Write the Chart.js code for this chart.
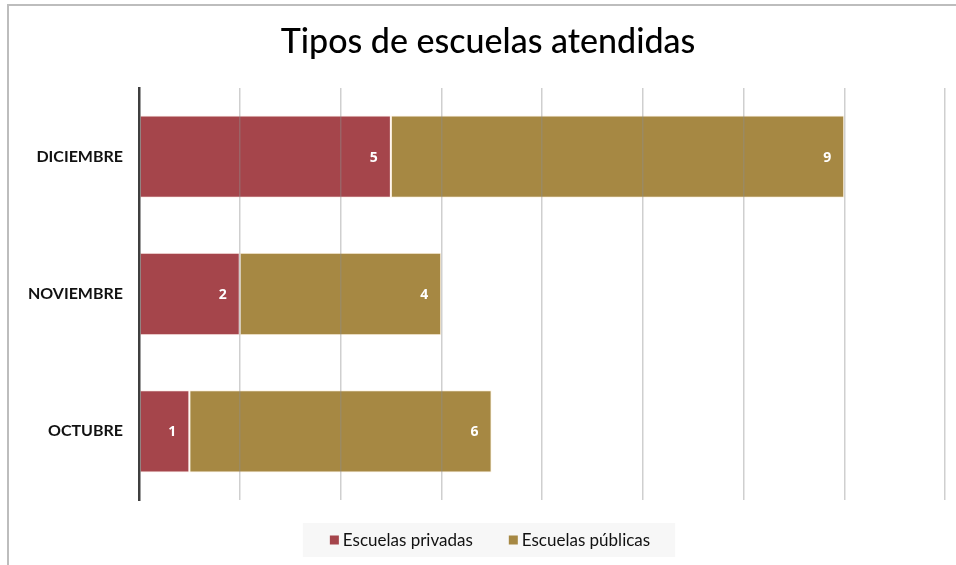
<!DOCTYPE html>
<html>
<head>
<meta charset="utf-8">
<script src="https://cdn.jsdelivr.net/npm/chart.js@4"></script>
<style>
html,body{margin:0;padding:0;background:#fff;}
#wrap{position:relative;width:956px;height:565px;}
</style>
</head>
<body>
<div id="wrap"><canvas id="c" width="956" height="565"></canvas></div>
<script>
const categories = ['DICIEMBRE', 'NOVIEMBRE', 'OCTUBRE'];
const privadas = [5, 2, 1];
const publicas = [9, 4, 6];
const seriesNames = ['Escuelas privadas', 'Escuelas públicas'];
const titleText = 'Tipos de escuelas atendidas';
const xMax = 16;
const xStep = 2;
const seriesColors = ['#a5454b', '#a68843'];

const framePlugin = {
  id: 'frame',
  beforeDraw(chart) {
    const ctx = chart.ctx;
    ctx.save();
    ctx.fillStyle = '#fff';
    ctx.fillRect(0, 0, chart.width, chart.height);
    ctx.restore();
  },
  afterDraw(chart) {
    const ctx = chart.ctx;
    ctx.save();
    // title
    ctx.fillStyle = '#000';
    ctx.font = '500 34px Lato, sans-serif';
    ctx.textAlign = 'center';
    ctx.textBaseline = 'middle';
    ctx.fillText(titleText, 488, 42);
    // legend
    ctx.font = '17px Lato, sans-serif';
    ctx.textBaseline = 'middle';
    ctx.textAlign = 'left';
    const box = 9, gap = 4, itemGap = 36;
    const widths = seriesNames.map(n => ctx.measureText(n).width);
    const total = widths.reduce((a, w) => a + box + gap + w, 0) + itemGap * (seriesNames.length - 1);
    let x = 490 - total / 2;
    const cy = 540;
    ctx.fillStyle = '#f7f7f7';
    ctx.fillRect(x - 27, 523, total + 52, 34);
    seriesNames.forEach((n, i) => {
      ctx.fillStyle = seriesColors[i];
      ctx.fillRect(x, cy - 4.5, box, box);
      ctx.fillStyle = '#111';
      ctx.fillText(n, x + box + gap, cy + 1);
      x += box + gap + widths[i] + itemGap;
    });
    // frame
    ctx.strokeStyle = '#bdbdbd';
    ctx.lineWidth = 2;
    ctx.beginPath();
    ctx.moveTo(8, 566);
    ctx.lineTo(8, 5);
    ctx.lineTo(957, 5);
    ctx.stroke();
    ctx.restore();
  }
};

const labelPlugin = {
  id: 'barLabels',
  afterDatasetsDraw(chart) {
    const ctx = chart.ctx;
    ctx.save();
    ctx.fillStyle = '#ffffff';
    ctx.font = 'bold 14px "Open Sans", sans-serif';
    ctx.textAlign = 'center';
    ctx.textBaseline = 'middle';
    chart.data.datasets.forEach((ds, di) => {
      const meta = chart.getDatasetMeta(di);
      meta.data.forEach((bar, i) => {
        ctx.fillText(String(ds.data[i]), bar.x - 17, bar.y + 1);
      });
    });
    ctx.restore();
  }
};

new Chart(document.getElementById('c'), {
  type: 'bar',
  data: {
    labels: categories,
    datasets: [
      { label: seriesNames[0], data: privadas, backgroundColor: seriesColors[0], borderColor: 'rgba(255,235,225,0.7)', borderWidth: 1, borderSkipped: false, categoryPercentage: 1, barPercentage: 0.6 },
      { label: seriesNames[1], data: publicas, backgroundColor: seriesColors[1], borderColor: 'rgba(255,240,215,0.7)', borderWidth: 1, borderSkipped: false, categoryPercentage: 1, barPercentage: 0.6 }
    ]
  },
  options: {
    indexAxis: 'y',
    responsive: false,
    animation: false,
    devicePixelRatio: 1,
    layout: { padding: { left: 10, right: 11, top: 88, bottom: 65 } },
    scales: {
      x: {
        stacked: true,
        min: 0,
        max: xMax,
        ticks: { display: false, stepSize: xStep },
        grid: { color: 'rgba(140,140,140,0.42)', lineWidth: 1.5, drawTicks: false, z: 1 },
        border: { display: false },
        afterFit(scale) { scale.height = 0; }
      },
      y: {
        stacked: true,
        ticks: { color: '#111', font: { family: 'Lato', size: 16, weight: 'bold' }, padding: 16 },
        grid: { display: false, drawTicks: false },
        border: { display: true, color: '#3f3f3f', width: 2.5, z: 2 },
        afterFit(scale) { scale.width = 129; }
      }
    },
    plugins: {
      title: { display: false },
      legend: { display: false },
      tooltip: { enabled: false }
    }
  },
  plugins: [framePlugin, labelPlugin]
});
</script>
</body>
</html>
